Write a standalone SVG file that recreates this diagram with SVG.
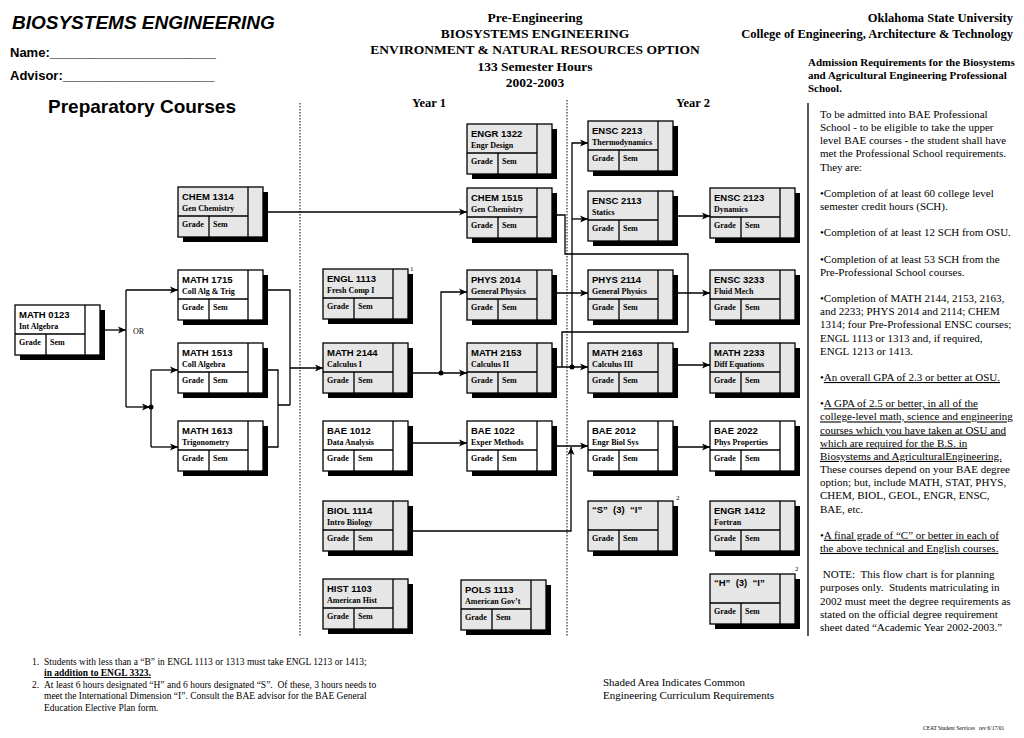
<svg xmlns="http://www.w3.org/2000/svg" xmlns:xlink="http://www.w3.org/1999/xlink" width="1024" height="738" viewBox="0 0 1024 738">
<style>
.code{font-family:"Liberation Sans",Arial,sans-serif;font-weight:bold;font-size:9.5px;fill:#000}
.sub{font-family:"Liberation Serif","Times New Roman",serif;font-weight:bold;font-size:8px;fill:#000}
.g{fill:#e6e6e6}
.w{fill:#fff}
.ln{fill:none;stroke:#000;stroke-width:1.3}
.dot{fill:#000}
.dash{stroke:#000;stroke-width:1;stroke-dasharray:1.5,1.5}
.hdr{font-family:"Liberation Sans",Arial,sans-serif;font-weight:bold;fill:#000}
.ttl{font-family:"Liberation Serif","Times New Roman",serif;font-weight:bold;fill:#000}
.body{font-family:"Liberation Serif","Times New Roman",serif;font-size:11px;fill:#000}
.fn{font-family:"Liberation Serif","Times New Roman",serif;font-size:9.5px;fill:#000}
.lg{font-family:"Liberation Serif","Times New Roman",serif;font-size:11px;fill:#000}
.tiny{font-family:"Liberation Serif","Times New Roman",serif;font-size:5.5px;fill:#000}
.or{font-family:"Liberation Serif","Times New Roman",serif;font-size:8px;fill:#000}
.sup{font-family:"Liberation Serif","Times New Roman",serif;font-size:7px;fill:#000}
.u{text-decoration:underline}
</style>
<defs>
<marker id="ah" markerWidth="9" markerHeight="8" refX="8" refY="4" orient="auto" markerUnits="userSpaceOnUse">
<path d="M0,0.5 L8,4 L0,7.5 L2,4 z" fill="#000"/>
</marker>
<g id="frame">
<rect x="5" y="5" width="85" height="50" fill="#000"/>
<rect x="0" y="0" width="85" height="50" stroke="#000" stroke-width="1.3"/>
<path d="M70,0V50M0,29H70M31,29V50" fill="none" stroke="#000" stroke-width="1.3"/>
</g>
</defs>

<rect width="1024" height="738" fill="#fff"/>

<!-- headers -->
<g id="header">
<text class="hdr" x="12" y="29" font-size="19" font-style="italic">BIOSYSTEMS ENGINEERING</text>
<text class="hdr" x="10" y="57" font-size="13">Name:_______________________</text>
<text class="hdr" x="10" y="80" font-size="13">Advisor:_____________________</text>
<text class="hdr" x="48" y="113" font-size="19">Preparatory Courses</text>
<g class="ttl" font-size="13.5" text-anchor="middle">
<text x="535" y="22">Pre-Engineering</text>
<text x="535" y="38">BIOSYSTEMS ENGINEERING</text>
<text x="535" y="54">ENVIRONMENT &amp; NATURAL RESOURCES OPTION</text>
<text x="535" y="71">133 Semester Hours</text>
<text x="535" y="87">2002-2003</text>
</g>
<text class="ttl" font-size="12.5" x="429" y="107" text-anchor="middle">Year 1</text>
<text class="ttl" font-size="12.5" x="693" y="107" text-anchor="middle">Year 2</text>
<g class="ttl" font-size="12.5" text-anchor="end">
<text x="1013" y="22">Oklahoma State University</text>
<text x="1013" y="38">College of Engineering, Architecture &amp; Technology</text>
</g>
<g class="ttl" font-size="11">
<text x="808" y="66">Admission Requirements for the Biosystems</text>
<text x="808" y="79">and Agricultural Engineering Professional</text>
<text x="808" y="92">School.</text>
</g>
</g>

<!-- separators -->
<g id="separators">
<line class="dash" x1="300" y1="103" x2="300" y2="636"/>
<line class="dash" x1="567" y1="100" x2="567" y2="636"/>
<line x1="808" y1="103" x2="808" y2="636" stroke="#000" stroke-width="1.3"/>
</g>

<!-- connectors -->
<g id="connectors">
<path class="ln" d="M100,330H126" marker-end="url(#ah)"/>
<path class="ln" d="M126,290V407"/>
<path class="ln" d="M126,290H178" marker-end="url(#ah)"/>
<path class="ln" d="M126,407H150" marker-end="url(#ah)"/>
<path class="ln" d="M151,370V447"/>
<path class="ln" d="M151,370H178" marker-end="url(#ah)"/>
<path class="ln" d="M151,447H178" marker-end="url(#ah)"/>
<circle class="dot" cx="151" cy="407" r="2.5"/>
<path class="ln" d="M263,212H467" marker-end="url(#ah)"/>
<path class="ln" d="M263,290H290V405"/>
<path class="ln" d="M263,370H278V447H263M278,405H290"/>
<path class="ln" d="M290,368H323" marker-end="url(#ah)"/>
<path class="ln" d="M408,373H467" marker-end="url(#ah)"/>
<circle class="dot" cx="441" cy="373" r="2.5"/>
<path class="ln" d="M441,373V292H467" marker-end="url(#ah)"/>
<path class="ln" d="M408,443H467" marker-end="url(#ah)"/>
<path class="ln" d="M552,215H565V254H688V332H562V367"/>
<path class="ln" d="M673,293H710" marker-end="url(#ah)"/>
<path class="ln" d="M552,293H588" marker-end="url(#ah)"/>
<path class="ln" d="M552,367H588" marker-end="url(#ah)"/>
<circle class="dot" cx="572" cy="367" r="2.5"/>
<path class="ln" d="M572,367V143H588" marker-end="url(#ah)"/>
<path class="ln" d="M572,219H588" marker-end="url(#ah)"/>
<path class="ln" d="M673,216H710" marker-end="url(#ah)"/>
<path class="ln" d="M673,365H710" marker-end="url(#ah)"/>
<path class="ln" d="M552,446H588" marker-end="url(#ah)"/>
<path class="ln" d="M408,531H571V447" marker-end="url(#ah)"/>
<path class="ln" d="M673,447H710" marker-end="url(#ah)"/>
<text class="or" x="133" y="334">OR</text>
</g>

<!-- nodes -->
<g id="math0123" transform="translate(15,305)"><use xlink:href="#frame" class="w"/><text class="code" x="4" y="13">MATH 0123</text><text class="sub" x="4" y="24">Int Algebra</text><text class="sub" x="4" y="40">Grade</text><text class="sub" x="35" y="40">Sem</text></g>
<g id="chem1314" transform="translate(178,187)"><use xlink:href="#frame" class="g"/><text class="code" x="4" y="13">CHEM 1314</text><text class="sub" x="4" y="24">Gen Chemistry</text><text class="sub" x="4" y="40">Grade</text><text class="sub" x="35" y="40">Sem</text></g>
<g id="math1715" transform="translate(178,270)"><use xlink:href="#frame" class="w"/><text class="code" x="4" y="13">MATH 1715</text><text class="sub" x="4" y="24">Coll Alg &amp; Trig</text><text class="sub" x="4" y="40">Grade</text><text class="sub" x="35" y="40">Sem</text></g>
<g id="math1513" transform="translate(178,343)"><use xlink:href="#frame" class="w"/><text class="code" x="4" y="13">MATH 1513</text><text class="sub" x="4" y="24">Coll Algebra</text><text class="sub" x="4" y="40">Grade</text><text class="sub" x="35" y="40">Sem</text></g>
<g id="math1613" transform="translate(178,421)"><use xlink:href="#frame" class="w"/><text class="code" x="4" y="13">MATH 1613</text><text class="sub" x="4" y="24">Trigonometry</text><text class="sub" x="4" y="40">Grade</text><text class="sub" x="35" y="40">Sem</text></g>

<g id="engl1113" transform="translate(323,269)"><use xlink:href="#frame" class="g"/><text class="code" x="4" y="13">ENGL 1113</text><text class="sub" x="4" y="24">Fresh Comp I</text><text class="sub" x="4" y="40">Grade</text><text class="sub" x="35" y="40">Sem</text></g>
<text class="sup" x="410" y="271">1</text>
<g id="math2144" transform="translate(323,343)"><use xlink:href="#frame" class="g"/><text class="code" x="4" y="13">MATH 2144</text><text class="sub" x="4" y="24">Calculus I</text><text class="sub" x="4" y="40">Grade</text><text class="sub" x="35" y="40">Sem</text></g>
<g id="bae1012" transform="translate(323,421)"><use xlink:href="#frame" class="w"/><text class="code" x="4" y="13">BAE 1012</text><text class="sub" x="4" y="24">Data Analysis</text><text class="sub" x="4" y="40">Grade</text><text class="sub" x="35" y="40">Sem</text></g>
<g id="biol1114" transform="translate(323,501)"><use xlink:href="#frame" class="g"/><text class="code" x="4" y="13">BIOL 1114</text><text class="sub" x="4" y="24">Intro Biology</text><text class="sub" x="4" y="40">Grade</text><text class="sub" x="35" y="40">Sem</text></g>
<g id="hist1103" transform="translate(323,579)"><use xlink:href="#frame" class="g"/><text class="code" x="4" y="13">HIST 1103</text><text class="sub" x="4" y="24">American Hist</text><text class="sub" x="4" y="40">Grade</text><text class="sub" x="35" y="40">Sem</text></g>
<g id="pols1113" transform="translate(461,580)"><use xlink:href="#frame" class="g"/><text class="code" x="4" y="13">POLS 1113</text><text class="sub" x="4" y="24">American Gov’t</text><text class="sub" x="4" y="40">Grade</text><text class="sub" x="35" y="40">Sem</text></g>

<g id="engr1322" transform="translate(467,124)"><use xlink:href="#frame" class="g"/><text class="code" x="4" y="13">ENGR 1322</text><text class="sub" x="4" y="24">Engr Design</text><text class="sub" x="4" y="40">Grade</text><text class="sub" x="35" y="40">Sem</text></g>
<g id="chem1515" transform="translate(467,188)"><use xlink:href="#frame" class="g"/><text class="code" x="4" y="13">CHEM 1515</text><text class="sub" x="4" y="24">Gen Chemistry</text><text class="sub" x="4" y="40">Grade</text><text class="sub" x="35" y="40">Sem</text></g>
<g id="phys2014" transform="translate(467,270)"><use xlink:href="#frame" class="g"/><text class="code" x="4" y="13">PHYS 2014</text><text class="sub" x="4" y="24">General Physics</text><text class="sub" x="4" y="40">Grade</text><text class="sub" x="35" y="40">Sem</text></g>
<g id="math2153" transform="translate(467,343)"><use xlink:href="#frame" class="g"/><text class="code" x="4" y="13">MATH 2153</text><text class="sub" x="4" y="24">Calculus II</text><text class="sub" x="4" y="40">Grade</text><text class="sub" x="35" y="40">Sem</text></g>
<g id="bae1022" transform="translate(467,421)"><use xlink:href="#frame" class="w"/><text class="code" x="4" y="13">BAE 1022</text><text class="sub" x="4" y="24">Exper Methods</text><text class="sub" x="4" y="40">Grade</text><text class="sub" x="35" y="40">Sem</text></g>

<g id="ensc2213" transform="translate(588,121)"><use xlink:href="#frame" class="g"/><text class="code" x="4" y="13">ENSC 2213</text><text class="sub" x="4" y="24">Thermodynamics</text><text class="sub" x="4" y="40">Grade</text><text class="sub" x="35" y="40">Sem</text></g>
<g id="ensc2113" transform="translate(588,191)"><use xlink:href="#frame" class="g"/><text class="code" x="4" y="13">ENSC 2113</text><text class="sub" x="4" y="24">Statics</text><text class="sub" x="4" y="40">Grade</text><text class="sub" x="35" y="40">Sem</text></g>
<g id="phys2114" transform="translate(588,270)"><use xlink:href="#frame" class="g"/><text class="code" x="4" y="13">PHYS 2114</text><text class="sub" x="4" y="24">General Physics</text><text class="sub" x="4" y="40">Grade</text><text class="sub" x="35" y="40">Sem</text></g>
<g id="math2163" transform="translate(588,343)"><use xlink:href="#frame" class="g"/><text class="code" x="4" y="13">MATH 2163</text><text class="sub" x="4" y="24">Calculus III</text><text class="sub" x="4" y="40">Grade</text><text class="sub" x="35" y="40">Sem</text></g>
<g id="bae2012" transform="translate(588,421)"><use xlink:href="#frame" class="w"/><text class="code" x="4" y="13">BAE 2012</text><text class="sub" x="4" y="24">Engr Biol Sys</text><text class="sub" x="4" y="40">Grade</text><text class="sub" x="35" y="40">Sem</text></g>
<g id="s3i" transform="translate(588,501)"><use xlink:href="#frame" class="g"/><text class="code" x="4" y="12" xml:space="preserve">“S”  (3)  “I”</text><text class="sub" x="4" y="40">Grade</text><text class="sub" x="35" y="40">Sem</text></g>
<text class="sup" x="676" y="500">2</text>

<g id="ensc2123" transform="translate(710,188)"><use xlink:href="#frame" class="g"/><text class="code" x="4" y="13">ENSC 2123</text><text class="sub" x="4" y="24">Dynamics</text><text class="sub" x="4" y="40">Grade</text><text class="sub" x="35" y="40">Sem</text></g>
<g id="ensc3233" transform="translate(710,270)"><use xlink:href="#frame" class="g"/><text class="code" x="4" y="13">ENSC 3233</text><text class="sub" x="4" y="24">Fluid Mech</text><text class="sub" x="4" y="40">Grade</text><text class="sub" x="35" y="40">Sem</text></g>
<g id="math2233" transform="translate(710,343)"><use xlink:href="#frame" class="g"/><text class="code" x="4" y="13">MATH 2233</text><text class="sub" x="4" y="24">Diff Equations</text><text class="sub" x="4" y="40">Grade</text><text class="sub" x="35" y="40">Sem</text></g>
<g id="bae2022" transform="translate(710,421)"><use xlink:href="#frame" class="w"/><text class="code" x="4" y="13">BAE 2022</text><text class="sub" x="4" y="24">Phys Properties</text><text class="sub" x="4" y="40">Grade</text><text class="sub" x="35" y="40">Sem</text></g>
<g id="engr1412" transform="translate(710,501)"><use xlink:href="#frame" class="g"/><text class="code" x="4" y="13">ENGR 1412</text><text class="sub" x="4" y="24">Fortran</text><text class="sub" x="4" y="40">Grade</text><text class="sub" x="35" y="40">Sem</text></g>
<g id="h3i" transform="translate(710,574)"><use xlink:href="#frame" class="g"/><text class="code" x="4" y="12" xml:space="preserve">“H”  (3)  “I”</text><text class="sub" x="4" y="40">Grade</text><text class="sub" x="35" y="40">Sem</text></g>
<text class="sup" x="795" y="571">2</text>

<!-- requirements text -->
<g id="requirements" class="body">
<text x="820" y="118">To be admitted into BAE Professional</text>
<text x="820" y="131.15">School - to be eligible to take the upper</text>
<text x="820" y="144.3">level BAE courses - the student shall have</text>
<text x="820" y="157.45">met the Professional School requirements.</text>
<text x="820" y="170.6">They are:</text>
<text x="820" y="196.9">•Completion of at least 60 college level</text>
<text x="820" y="210.05">semester credit hours (SCH).</text>
<text x="820" y="236.35">•Completion of at least 12 SCH from OSU.</text>
<text x="820" y="262.65">•Completion of at least 53 SCH from the</text>
<text x="820" y="275.8">Pre-Professional School courses.</text>
<text x="820" y="302.1">•Completion of MATH 2144, 2153, 2163,</text>
<text x="820" y="315.25">and 2233; PHYS 2014 and 2114; CHEM</text>
<text x="820" y="328.4">1314; four Pre-Professional ENSC courses;</text>
<text x="820" y="341.55">ENGL 1113 or 1313 and, if required,</text>
<text x="820" y="354.7">ENGL 1213 or 1413.</text>
<text x="820" y="381">•<tspan class="u">An overall GPA of 2.3 or better at OSU.</tspan></text>
<text x="820" y="407.3">•<tspan class="u">A GPA of 2.5 or better, in all of the</tspan></text>
<text x="820" y="420.45" class="u">college-level math, science and engineering</text>
<text x="820" y="433.6" class="u">courses which you have taken at OSU and</text>
<text x="820" y="446.75" class="u">which are required for the B.S. in</text>
<text x="820" y="459.9" class="u">Biosystems and AgriculturalEngineering.</text>
<text x="820" y="473.05">These courses depend on your BAE degree</text>
<text x="820" y="486.2">option; but, include MATH, STAT, PHYS,</text>
<text x="820" y="499.35">CHEM, BIOL, GEOL, ENGR, ENSC,</text>
<text x="820" y="512.5">BAE, etc.</text>
<text x="820" y="538.8">•<tspan class="u">A final grade of “C” or better in each of</tspan></text>
<text x="820" y="551.95" class="u">the above technical and English courses.</text>
<text x="820" y="578.25" xml:space="preserve"> NOTE:  This flow chart is for planning</text>
<text x="820" y="591.4" xml:space="preserve">purposes only.  Students matriculating in</text>
<text x="820" y="604.55">2002 must meet the degree requirements as</text>
<text x="820" y="617.7">stated on the official degree requirement</text>
<text x="820" y="630.85">sheet dated “Academic Year 2002-2003.”</text>
</g>

<!-- footnotes -->
<g id="footnotes" class="fn">
<text x="32" y="665">1.</text>
<text x="44" y="665">Students with less than a “B” in ENGL 1113 or 1313 must take ENGL 1213 or 1413;</text>
<text x="44" y="676" font-weight="bold" class="u">in addition to ENGL 3323.</text>
<text x="32" y="688">2.</text>
<text x="44" y="688" xml:space="preserve">At least 6 hours designated “H” and 6 hours designated “S”.  Of these, 3 hours needs to</text>
<text x="44" y="699">meet the International Dimension “I”. Consult the BAE advisor for the BAE General</text>
<text x="44" y="711">Education Elective Plan form.</text>
</g>
<g id="legend" class="lg">
<text x="603" y="686">Shaded Area Indicates Common</text>
<text x="603" y="699">Engineering Curriculum Requirements</text>
</g>
<text class="tiny" x="923" y="730" xml:space="preserve">CEAT Student Services   rev 6/17/01</text>
</svg>
